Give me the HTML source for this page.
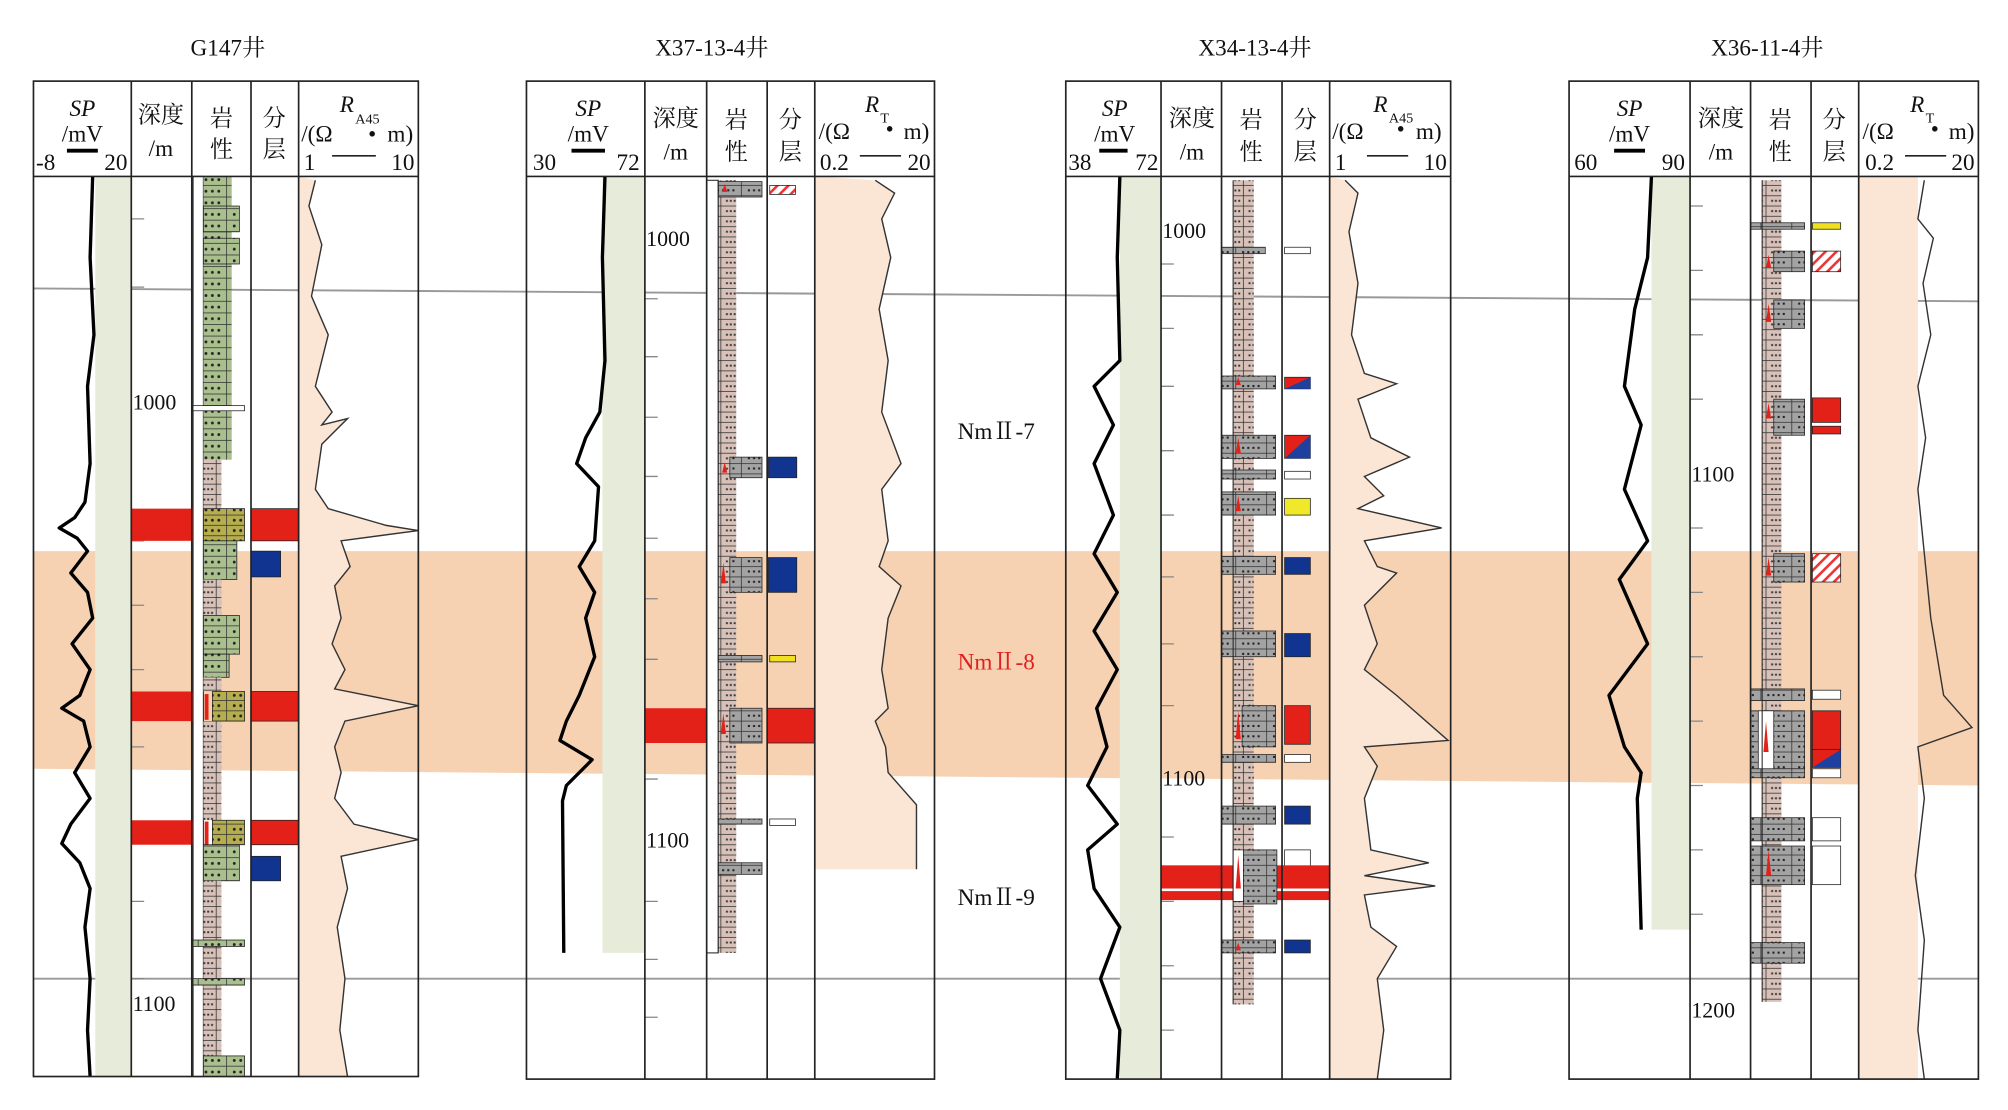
<!DOCTYPE html>
<html><head><meta charset="utf-8"><style>
html,body{margin:0;padding:0;background:#fff;}
svg{display:block;}
text{font-family:"Liberation Serif","Noto Serif CJK SC",serif;fill:#111;}
</style></head><body>
<svg width="2008" height="1110" viewBox="0 0 1560 862" preserveAspectRatio="none" xmlns="http://www.w3.org/2000/svg">
<defs>
<pattern id="br" width="14" height="8" patternUnits="userSpaceOnUse">
<rect x="0" y="0" width="14" height="8" fill="#d8c1b8" stroke="#333" stroke-width="0.6"/>
<rect x="4" y="3.2" width="1.5" height="1.5" fill="#333"/><rect x="7" y="3.2" width="1.5" height="1.5" fill="#333"/><rect x="10" y="3.2" width="1.5" height="1.5" fill="#333"/>
</pattern>
<pattern id="gn" width="22" height="9" patternUnits="userSpaceOnUse">
<rect x="0" y="0" width="22" height="9" fill="#a9bf8e" stroke="#333" stroke-width="0.6"/>
<circle cx="6" cy="4.5" r="1.1" fill="#222"/><circle cx="11" cy="4.5" r="1.1" fill="#222"/><circle cx="16" cy="4.5" r="1.1" fill="#222"/>
</pattern>
<pattern id="ol" width="22" height="8" patternUnits="userSpaceOnUse">
<rect x="0" y="0" width="22" height="8" fill="#b5ad4e" stroke="#333" stroke-width="0.6"/>
<circle cx="6" cy="4" r="1.1" fill="#222"/><circle cx="11" cy="4" r="1.1" fill="#222"/><circle cx="16" cy="4" r="1.1" fill="#222"/>
</pattern>
<pattern id="gr" width="24" height="8" patternUnits="userSpaceOnUse">
<rect x="0" y="0" width="24" height="8" fill="#a3a3a3" stroke="#333" stroke-width="0.6"/>
<rect x="5" y="3" width="1.6" height="1.6" fill="#222"/><rect x="9" y="3" width="1.6" height="1.6" fill="#222"/><rect x="13" y="3" width="1.6" height="1.6" fill="#222"/><rect x="17" y="3" width="1.6" height="1.6" fill="#222"/>
</pattern>
<pattern id="ht" width="6" height="6" patternUnits="userSpaceOnUse" patternTransform="rotate(45)">
<rect width="6" height="6" fill="#fff"/><rect width="2" height="6" fill="#e33"/>
</pattern>
</defs>

<!-- band and correlation lines -->
<polygon points="26,428 1537,428 1537,610 26,597" fill="#f6d2b2"/>
<line x1="26" y1="224" x2="1537" y2="234" stroke="#999" stroke-width="1.5"/>
<line x1="26" y1="760" x2="1537" y2="760" stroke="#999" stroke-width="1.5"/>

<!-- titles -->
<text x="177" y="43" font-size="18" text-anchor="middle">G147井</text>
<text x="553" y="43" font-size="18" text-anchor="middle">X37-13-4井</text>
<text x="975" y="43" font-size="18" text-anchor="middle">X34-13-4井</text>
<text x="1373" y="43" font-size="18" text-anchor="middle">X36-11-4井</text>

<text x="744" y="341" font-size="18">NmⅡ-7</text>
<text x="744" y="520" font-size="18" style="fill:#e02020">NmⅡ-8</text>
<text x="744" y="703" font-size="18">NmⅡ-9</text>

<!-- header backgrounds white -->
<rect x="26" y="63" width="299" height="74" fill="#fff"/>
<rect x="409" y="63" width="317" height="74" fill="#fff"/>
<rect x="828" y="63" width="299" height="74" fill="#fff"/>
<rect x="1219" y="63" width="318" height="74" fill="#fff"/>

<!-- SP fills -->
<rect x="74" y="137" width="28" height="699" fill="#e6ecd9"/>
<rect x="468" y="137" width="33" height="603" fill="#e6ecd9"/>
<rect x="870" y="137" width="32" height="701" fill="#e6ecd9"/>
<rect x="1283" y="137" width="30" height="585" fill="#e6ecd9"/>

<!-- R fills -->
<polygon fill="#fbe6d6" points="232,137 245,140 240,160 250,190 242,230 255,260 245,300 258,320 250,330 270,325 250,345 245,380 255,395 300,408 325,412 265,420 272,440 260,455 265,480 258,500 268,520 260,535 325,548 268,560 260,580 265,600 260,620 275,640 325,652 265,665 270,690 262,720 268,760 264,800 270,836 232,836"/>
<polygon fill="#fbe6d6" points="633,137 680,140 695,150 685,170 692,200 683,240 690,280 685,320 700,360 685,380 690,420 683,440 700,455 690,480 685,520 690,550 680,560 688,580 690,600 712,625 712,675 633,675"/>
<polygon fill="#fbe6d6" points="1033,137 1045,140 1055,150 1048,180 1055,220 1050,260 1060,290 1085,298 1055,310 1065,340 1095,355 1060,370 1075,385 1055,395 1120,410 1060,420 1070,440 1085,445 1060,470 1070,500 1060,520 1085,540 1125,575 1060,580 1070,595 1060,620 1065,660 1110,670 1060,680 1115,688 1060,695 1065,720 1085,735 1070,760 1075,800 1070,838 1033,838"/>
<rect x="1444" y="137" width="46" height="701" fill="#fbe6d6"/>

<!-- R curves -->
<g fill="none" stroke="#333" stroke-width="1.1">
<polyline points="245,140 240,160 250,190 242,230 255,260 245,300 258,320 250,330 270,325 250,345 245,380 255,395 300,408 325,412 265,420 272,440 260,455 265,480 258,500 268,520 260,535 325,548 268,560 260,580 265,600 260,620 275,640 325,652 265,665 270,690 262,720 268,760 264,800 270,836"/>
<polyline points="680,140 695,150 685,170 692,200 683,240 690,280 685,320 700,360 685,380 690,420 683,440 700,455 690,480 685,520 690,550 680,560 688,580 690,600 712,625 712,675"/>
<polyline points="1045,140 1055,150 1048,180 1055,220 1050,260 1060,290 1085,298 1055,310 1065,340 1095,355 1060,370 1075,385 1055,395 1120,410 1060,420 1070,440 1085,445 1060,470 1070,500 1060,520 1085,540 1125,575 1060,580 1070,595 1060,620 1065,660 1110,670 1060,680 1115,688 1060,695 1065,720 1085,735 1070,760 1075,800 1070,838"/>
<polyline points="1495,140 1490,170 1502,185 1494,220 1500,260 1490,300 1496,340 1490,380 1495,430 1500,480 1510,540 1532,565 1490,580 1495,620 1488,680 1495,730 1490,800 1495,838"/>
</g>

<!-- SP curves -->
<g fill="none" stroke="#000" stroke-width="2.6" stroke-linejoin="round">
<polyline points="72,137 70,200 73,260 68,300 70,360 66,390 58,402 46,410 60,418 68,428 55,445 68,460 72,480 56,500 70,520 62,540 48,550 65,560 70,580 58,600 70,620 55,640 48,655 62,670 70,690 66,720 70,760 68,800 70,836"/>
<polyline points="470,137 468,200 470,280 466,320 455,340 448,360 465,378 462,420 450,440 462,460 455,480 462,510 450,540 440,560 435,575 460,590 440,610 437,622 438,740"/>
<polyline points="870,137 868,200 870,280 850,300 865,330 850,360 865,400 850,430 868,460 850,490 868,520 852,550 860,580 845,610 868,640 845,660 850,690 870,720 855,760 870,800 868,838"/>
<polyline points="1283,137 1280,200 1270,240 1262,300 1275,330 1262,380 1280,420 1258,450 1280,500 1250,540 1262,580 1275,600 1272,620 1275,722"/>
</g>

<!-- depth ticks -->
<g stroke="#888" stroke-width="1">
<path d="M102,170h10M102,223h10M102,420h10M102,470h10M102,520h10M102,580h10M102,640h10M102,700h10M102,760h10"/>
<path d="M501,232h10M501,277h10M501,324h10M501,370h10M501,418h10M501,465h10M501,512h10M501,560h10M501,605h10M501,700h10M501,745h10M501,790h10"/>
<path d="M902,205h10M902,255h10M902,300h10M902,350h10M902,400h10M902,448h10M902,500h10M902,548h10M902,650h10M902,700h10M902,750h10M902,800h10"/>
<path d="M1313,160h10M1313,210h10M1313,260h10M1313,310h10M1313,410h10M1313,460h10M1313,510h10M1313,560h10M1313,610h10M1313,660h10M1313,710h10"/>
</g>

<!-- ===== G147 lithology ===== -->
<rect x="150" y="137" width="8" height="699" fill="#fff" stroke="#222" stroke-width="0.8"/>
<rect x="158" y="137" width="22" height="220" fill="url(#gn)"/>
<rect x="158" y="160" width="28" height="20" fill="url(#gn)" stroke="#222" stroke-width="0.6"/>
<rect x="158" y="185" width="28" height="20" fill="url(#gn)" stroke="#222" stroke-width="0.6"/>
<rect x="150" y="315" width="40" height="4" fill="#fff" stroke="#222" stroke-width="0.6"/>
<rect x="158" y="357" width="14" height="38" fill="url(#br)"/>
<rect x="102" y="395" width="48" height="25" fill="#e32119"/>
<rect x="195" y="395" width="37" height="25" fill="#e32119" stroke="#222" stroke-width="0.6"/>
<rect x="158" y="395" width="32" height="25" fill="url(#ol)" stroke="#222" stroke-width="0.6"/>
<rect x="158" y="420" width="26" height="30" fill="url(#gn)" stroke="#222" stroke-width="0.6"/>
<rect x="195" y="428" width="23" height="20" fill="#10348f" stroke="#222" stroke-width="0.6"/>
<rect x="158" y="450" width="14" height="28" fill="url(#br)"/>
<rect x="158" y="478" width="28" height="30" fill="url(#gn)" stroke="#222" stroke-width="0.6"/>
<rect x="158" y="508" width="20" height="18" fill="url(#gn)" stroke="#222" stroke-width="0.6"/>
<rect x="158" y="526" width="14" height="11" fill="url(#br)"/>
<rect x="102" y="537" width="48" height="23" fill="#e32119"/>
<rect x="195" y="537" width="37" height="23" fill="#e32119" stroke="#222" stroke-width="0.6"/>
<rect x="165" y="537" width="25" height="23" fill="url(#ol)" stroke="#222" stroke-width="0.6"/>
<rect x="159" y="539" width="3" height="20" fill="#e32119"/>
<rect x="158" y="560" width="14" height="77" fill="url(#br)"/>
<rect x="102" y="637" width="48" height="19" fill="#e32119"/>
<rect x="195" y="637" width="37" height="19" fill="#e32119" stroke="#222" stroke-width="0.6"/>
<rect x="165" y="637" width="25" height="19" fill="url(#ol)" stroke="#222" stroke-width="0.6"/>
<rect x="159" y="638" width="3" height="18" fill="#e32119"/>
<rect x="158" y="656" width="28" height="28" fill="url(#gn)" stroke="#222" stroke-width="0.6"/>
<rect x="195" y="665" width="23" height="19" fill="#10348f" stroke="#222" stroke-width="0.6"/>
<rect x="158" y="684" width="14" height="136" fill="url(#br)"/>
<rect x="150" y="730" width="40" height="5" fill="url(#gn)" stroke="#222" stroke-width="0.6"/>
<rect x="150" y="760" width="40" height="5" fill="url(#gn)" stroke="#222" stroke-width="0.6"/>
<rect x="158" y="820" width="32" height="16" fill="url(#gn)" stroke="#222" stroke-width="0.6"/>

<!-- ===== X37 lithology ===== -->
<rect x="549" y="140" width="9" height="600" fill="#fff" stroke="#222" stroke-width="0.8"/>
<rect x="558" y="140" width="14" height="600" fill="url(#br)"/>
<rect x="558" y="141" width="34" height="12" fill="url(#gr)" stroke="#222" stroke-width="0.6"/>
<rect x="598" y="144" width="20" height="7" fill="url(#ht)" stroke="#222" stroke-width="0.6"/>
<rect x="567" y="355" width="25" height="16" fill="url(#gr)" stroke="#222" stroke-width="0.6"/>
<rect x="597" y="355" width="22" height="16" fill="#10348f" stroke="#222" stroke-width="0.6"/>
<rect x="567" y="433" width="25" height="27" fill="url(#gr)" stroke="#222" stroke-width="0.6"/>
<rect x="597" y="433" width="22" height="27" fill="#10348f" stroke="#222" stroke-width="0.6"/>
<rect x="558" y="509" width="34" height="5" fill="url(#gr)" stroke="#222" stroke-width="0.6"/>
<rect x="598" y="509" width="20" height="5" fill="#f0e020" stroke="#222" stroke-width="0.6"/>
<rect x="501" y="550" width="48" height="27" fill="#e32119"/>
<rect x="596" y="550" width="37" height="27" fill="#e32119" stroke="#222" stroke-width="0.6"/>
<rect x="567" y="550" width="25" height="27" fill="url(#gr)" stroke="#222" stroke-width="0.6"/>
<rect x="558" y="636" width="34" height="4" fill="url(#gr)" stroke="#222" stroke-width="0.6"/>
<rect x="598" y="636" width="20" height="5" fill="#fff" stroke="#222" stroke-width="0.6"/>
<rect x="558" y="670" width="34" height="9" fill="url(#gr)" stroke="#222" stroke-width="0.6"/>
<g fill="#e32119"><path d="M563,143l2,6h-4z"/><path d="M563,359l2,8h-4z"/><path d="M562,437l2,16h-4z"/><path d="M562,554l2,16h-4z"/></g>

<!-- ===== X34 lithology ===== -->
<rect x="958" y="140" width="16" height="640" fill="url(#br)"/>
<rect x="949" y="192" width="34" height="5" fill="url(#gr)" stroke="#222" stroke-width="0.6"/>
<rect x="998" y="192" width="20" height="5" fill="#fff" stroke="#222" stroke-width="0.6"/>
<rect x="949" y="292" width="42" height="10" fill="url(#gr)" stroke="#222" stroke-width="0.6"/>
<polygon points="998,293 1018,293 1018,302 998,302" fill="#e32119" stroke="#222" stroke-width="0.6"/><polygon points="998,302 1018,293 1018,302" fill="#2040a0"/>
<rect x="949" y="338" width="42" height="18" fill="url(#gr)" stroke="#222" stroke-width="0.6"/>
<polygon points="998,338 1018,338 1018,356 998,356" fill="#e32119" stroke="#222" stroke-width="0.6"/><polygon points="998,356 1018,338 1018,356" fill="#2040a0"/>
<rect x="949" y="365" width="42" height="7" fill="url(#gr)" stroke="#222" stroke-width="0.6"/>
<rect x="998" y="366" width="20" height="6" fill="#fff" stroke="#222" stroke-width="0.6"/>
<rect x="949" y="382" width="42" height="18" fill="url(#gr)" stroke="#222" stroke-width="0.6"/>
<rect x="998" y="387" width="20" height="13" fill="#f0e828" stroke="#222" stroke-width="0.6"/>
<rect x="949" y="432" width="42" height="14" fill="url(#gr)" stroke="#222" stroke-width="0.6"/>
<rect x="998" y="433" width="20" height="13" fill="#10348f" stroke="#222" stroke-width="0.6"/>
<rect x="949" y="490" width="42" height="20" fill="url(#gr)" stroke="#222" stroke-width="0.6"/>
<rect x="998" y="492" width="20" height="18" fill="#10348f" stroke="#222" stroke-width="0.6"/>
<rect x="965" y="548" width="26" height="32" fill="url(#gr)" stroke="#222" stroke-width="0.6"/>
<rect x="998" y="548" width="20" height="30" fill="#e32119" stroke="#222" stroke-width="0.6"/>
<rect x="949" y="586" width="42" height="6" fill="url(#gr)" stroke="#222" stroke-width="0.6"/>
<rect x="998" y="586" width="20" height="6" fill="#fff" stroke="#222" stroke-width="0.6"/>
<rect x="949" y="626" width="42" height="14" fill="url(#gr)" stroke="#222" stroke-width="0.6"/>
<rect x="998" y="626" width="20" height="14" fill="#10348f" stroke="#222" stroke-width="0.6"/>
<rect x="998" y="660" width="20" height="14" fill="#fff" stroke="#222" stroke-width="0.6"/>
<rect x="902" y="672" width="131" height="18" fill="#e32119"/>
<rect x="902" y="692" width="131" height="7" fill="#e32119"/>
<rect x="958" y="660" width="8" height="40" fill="#fff" stroke="#222" stroke-width="0.6"/>
<rect x="966" y="660" width="26" height="42" fill="url(#gr)" stroke="#222" stroke-width="0.6"/>
<rect x="949" y="730" width="42" height="10" fill="url(#gr)" stroke="#222" stroke-width="0.6"/>
<rect x="998" y="730" width="20" height="10" fill="#10348f" stroke="#222" stroke-width="0.6"/>
<g fill="#e32119"><path d="M962,293l2,6h-4z"/><path d="M962,340l2,12h-4z"/><path d="M962,385l2,12h-4z"/><path d="M962,552l2,22h-4z"/><path d="M962,664l2,26h-4z"/><path d="M962,732l2,6h-4z"/></g>

<!-- ===== X36 lithology ===== -->
<rect x="1369" y="140" width="15" height="638" fill="url(#br)"/>
<rect x="1360" y="173" width="42" height="5" fill="url(#gr)" stroke="#222" stroke-width="0.6"/>
<rect x="1408" y="173" width="22" height="5" fill="#f0e020" stroke="#222" stroke-width="0.6"/>
<rect x="1378" y="195" width="24" height="16" fill="url(#gr)" stroke="#222" stroke-width="0.6"/>
<rect x="1408" y="195" width="22" height="16" fill="url(#ht)" stroke="#222" stroke-width="0.6"/>
<rect x="1378" y="233" width="24" height="22" fill="url(#gr)" stroke="#222" stroke-width="0.6"/>
<rect x="1378" y="310" width="24" height="28" fill="url(#gr)" stroke="#222" stroke-width="0.6"/>
<rect x="1408" y="309" width="22" height="19" fill="#e32119" stroke="#222" stroke-width="0.6"/>
<rect x="1408" y="331" width="22" height="6" fill="#e32119" stroke="#222" stroke-width="0.6"/>
<rect x="1378" y="430" width="24" height="22" fill="url(#gr)" stroke="#222" stroke-width="0.6"/>
<rect x="1408" y="430" width="22" height="22" fill="url(#ht)" stroke="#222" stroke-width="0.6"/>
<rect x="1360" y="535" width="42" height="9" fill="url(#gr)" stroke="#222" stroke-width="0.6"/>
<rect x="1408" y="536" width="22" height="7" fill="#fff" stroke="#222" stroke-width="0.6"/>
<rect x="1360" y="552" width="42" height="46" fill="url(#gr)" stroke="#222" stroke-width="0.6"/>
<rect x="1366" y="552" width="12" height="46" fill="#fff" stroke="#222" stroke-width="0.6"/>
<rect x="1408" y="552" width="22" height="30" fill="#e32119" stroke="#222" stroke-width="0.6"/>
<polygon points="1408,582 1430,582 1430,596 1408,596" fill="#e32119" stroke="#222" stroke-width="0.6"/><polygon points="1408,596 1430,582 1430,596" fill="#2040a0"/>
<rect x="1360" y="597" width="42" height="7" fill="url(#gr)" stroke="#222" stroke-width="0.6"/>
<rect x="1408" y="597" width="22" height="7" fill="#fff" stroke="#222" stroke-width="0.6"/>
<rect x="1360" y="635" width="42" height="18" fill="url(#gr)" stroke="#222" stroke-width="0.6"/>
<rect x="1408" y="635" width="22" height="18" fill="#fff" stroke="#222" stroke-width="0.6"/>
<rect x="1360" y="657" width="42" height="30" fill="url(#gr)" stroke="#222" stroke-width="0.6"/>
<rect x="1408" y="657" width="22" height="30" fill="#fff" stroke="#222" stroke-width="0.6"/>
<rect x="1360" y="732" width="42" height="16" fill="url(#gr)" stroke="#222" stroke-width="0.6"/>
<g fill="#e32119"><path d="M1374,198l2,10h-4z"/><path d="M1374,236l2,14h-4z"/><path d="M1374,313l2,12h-4z"/><path d="M1374,433l2,14h-4z"/><path d="M1372,560l2,24h-4z"/><path d="M1374,660l2,20h-4z"/></g>

<!-- depth labels -->
<g font-size="17">
<text x="103" y="318">1000</text><text x="103" y="785">1100</text>
<text x="502" y="191">1000</text><text x="502" y="658">1100</text>
<text x="903" y="185">1000</text><text x="903" y="610">1100</text>
<text x="1314" y="374">1100</text><text x="1314" y="790">1200</text>
</g>

<!-- table grids -->
<g fill="none" stroke="#222" stroke-width="1.3">
<rect x="26" y="63" width="299" height="773"/><line x1="26" y1="137" x2="325" y2="137"/>
<path d="M102,63V836M149,63V836M195,63V836M232,63V836"/>
<rect x="409" y="63" width="317" height="775"/><line x1="409" y1="137" x2="726" y2="137"/>
<path d="M501,63V838M549,63V838M596,63V838M633,63V838"/>
<rect x="828" y="63" width="299" height="775"/><line x1="828" y1="137" x2="1127" y2="137"/>
<path d="M902,63V838M949,63V838M996,63V838M1033,63V838"/>
<rect x="1219" y="63" width="318" height="775"/><line x1="1219" y1="137" x2="1537" y2="137"/>
<path d="M1313,63V838M1360,63V838M1407,63V838M1444,63V838"/>
</g>
<g fill="none" stroke="#222" stroke-width="0.8">
<path d="M549,140V740M558,140V740"/>
<path d="M949,140V780M958,140V780M1360,140V778M1369,140V778"/>
</g>

<!-- headers -->
<g font-size="18">
<!-- G147 -->
<text x="64" y="90" text-anchor="middle" font-style="italic">SP</text>
<text x="64" y="110" text-anchor="middle">/mV</text>
<text x="28" y="132">-8</text><text x="99" y="132" text-anchor="end">20</text>
<line x1="52" y1="117" x2="76" y2="117" stroke="#000" stroke-width="3"/>
<text x="125" y="95" text-anchor="middle">深度</text><text x="125" y="121" text-anchor="middle">/m</text>
<text x="172" y="98" text-anchor="middle">岩</text><text x="172" y="122" text-anchor="middle">性</text>
<text x="213" y="98" text-anchor="middle">分</text><text x="213" y="122" text-anchor="middle">层</text>
<text x="264" y="87" font-style="italic">R</text><text x="276" y="96" font-size="11">A45</text>
<text x="234" y="110">/(Ω</text><text x="286" y="110">•</text><text x="301" y="110">m)</text>
<text x="236" y="132">1</text><text x="322" y="132" text-anchor="end">10</text>
<line x1="258" y1="121" x2="292" y2="121" stroke="#222" stroke-width="1.2"/>
<!-- X37 -->
<text x="457" y="90" text-anchor="middle" font-style="italic">SP</text>
<text x="457" y="110" text-anchor="middle">/mV</text>
<text x="414" y="132">30</text><text x="497" y="132" text-anchor="end">72</text>
<line x1="444" y1="117" x2="470" y2="117" stroke="#000" stroke-width="3"/>
<text x="525" y="98" text-anchor="middle">深度</text><text x="525" y="124" text-anchor="middle">/m</text>
<text x="572" y="99" text-anchor="middle">岩</text><text x="572" y="124" text-anchor="middle">性</text>
<text x="614" y="99" text-anchor="middle">分</text><text x="614" y="124" text-anchor="middle">层</text>
<text x="672" y="87" font-style="italic">R</text><text x="684" y="95" font-size="11">T</text>
<text x="636" y="108">/(Ω</text><text x="688" y="106">•</text><text x="702" y="108">m)</text>
<text x="637" y="132">0.2</text><text x="723" y="132" text-anchor="end">20</text>
<line x1="668" y1="121" x2="700" y2="121" stroke="#222" stroke-width="1.2"/>
<!-- X34 -->
<text x="866" y="90" text-anchor="middle" font-style="italic">SP</text>
<text x="866" y="110" text-anchor="middle">/mV</text>
<text x="830" y="132">38</text><text x="900" y="132" text-anchor="end">72</text>
<line x1="854" y1="117" x2="876" y2="117" stroke="#000" stroke-width="3"/>
<text x="926" y="98" text-anchor="middle">深度</text><text x="926" y="124" text-anchor="middle">/m</text>
<text x="972" y="99" text-anchor="middle">岩</text><text x="972" y="124" text-anchor="middle">性</text>
<text x="1014" y="99" text-anchor="middle">分</text><text x="1014" y="124" text-anchor="middle">层</text>
<text x="1067" y="87" font-style="italic">R</text><text x="1079" y="95" font-size="11">A45</text>
<text x="1035" y="108">/(Ω</text><text x="1085" y="106">•</text><text x="1100" y="108">m)</text>
<text x="1037" y="132">1</text><text x="1124" y="132" text-anchor="end">10</text>
<line x1="1062" y1="121" x2="1094" y2="121" stroke="#222" stroke-width="1.2"/>
<!-- X36 -->
<text x="1266" y="90" text-anchor="middle" font-style="italic">SP</text>
<text x="1266" y="110" text-anchor="middle">/mV</text>
<text x="1223" y="132">60</text><text x="1309" y="132" text-anchor="end">90</text>
<line x1="1254" y1="117" x2="1278" y2="117" stroke="#000" stroke-width="3"/>
<text x="1337" y="98" text-anchor="middle">深度</text><text x="1337" y="124" text-anchor="middle">/m</text>
<text x="1383" y="99" text-anchor="middle">岩</text><text x="1383" y="124" text-anchor="middle">性</text>
<text x="1425" y="99" text-anchor="middle">分</text><text x="1425" y="124" text-anchor="middle">层</text>
<text x="1484" y="87" font-style="italic">R</text><text x="1496" y="95" font-size="11">T</text>
<text x="1447" y="108">/(Ω</text><text x="1500" y="106">•</text><text x="1514" y="108">m)</text>
<text x="1449" y="132">0.2</text><text x="1534" y="132" text-anchor="end">20</text>
<line x1="1480" y1="121" x2="1512" y2="121" stroke="#222" stroke-width="1.2"/>
</g>
</svg>
</body></html>
